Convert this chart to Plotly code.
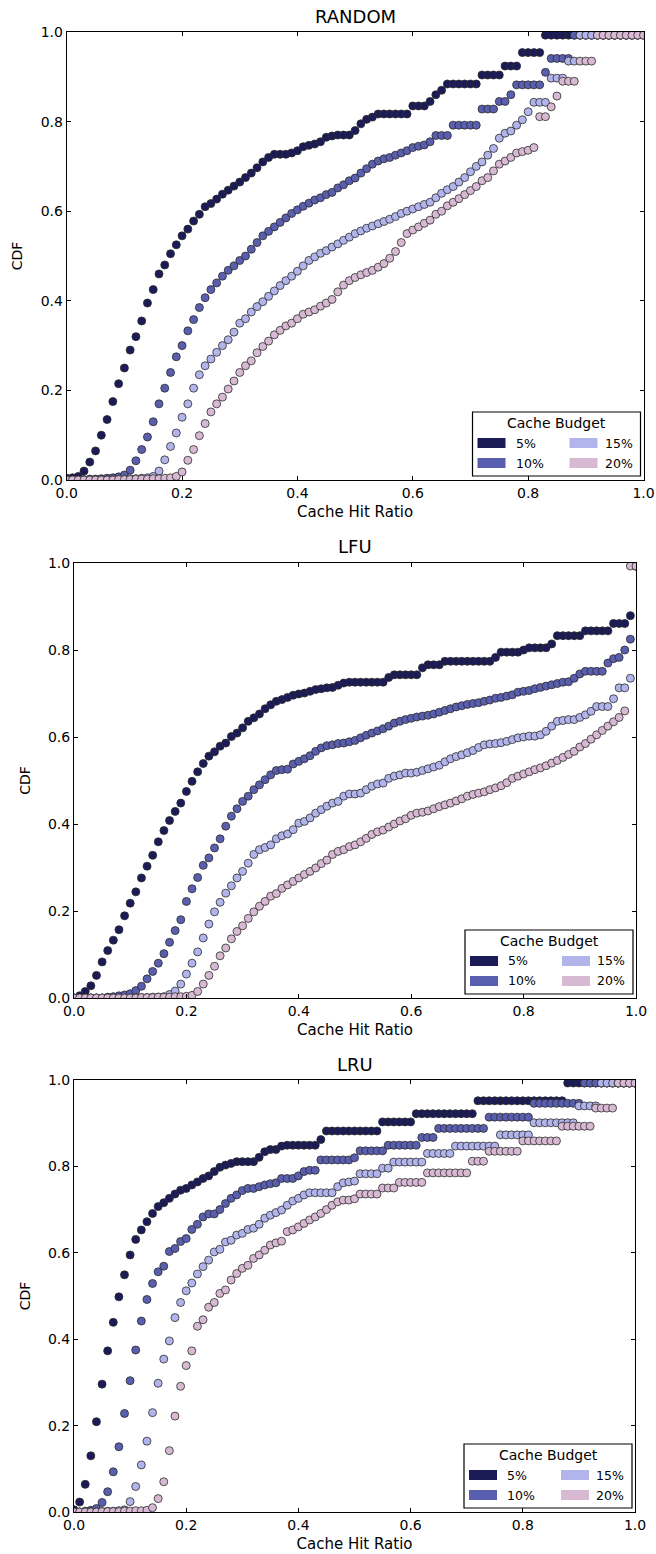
import plotly.graph_objects as go

W, H = 656, 1554

# ---------------- data ----------------
HIT_RATIO = [i / 100 for i in range(101)]
BUDGETS = ["5%", "10%", "15%", "20%"]
PANEL_TITLES = ["RANDOM", "LFU", "LRU"]
TICKS = [0.0, 0.2, 0.4, 0.6, 0.8, 1.0]
TICK_TEXT = ["0.0", "0.2", "0.4", "0.6", "0.8", "1.0"]

RANDOM_5 = [
    0.004, 0.005, 0.008, 0.020, 0.040, 0.065, 0.100, 0.135, 0.175, 0.215,
    0.250, 0.290, 0.320, 0.355, 0.395, 0.425, 0.460, 0.480, 0.505, 0.525,
    0.545, 0.560, 0.578, 0.593, 0.610, 0.617, 0.627, 0.638, 0.647, 0.656,
    0.665, 0.675, 0.685, 0.697, 0.710, 0.720, 0.727, 0.727, 0.727, 0.730,
    0.735, 0.744, 0.747, 0.750, 0.755, 0.765, 0.768, 0.770, 0.770, 0.770,
    0.780, 0.795, 0.805, 0.810, 0.817, 0.817, 0.817, 0.817, 0.817, 0.817,
    0.835, 0.835, 0.835, 0.845, 0.860, 0.870, 0.884, 0.884, 0.884, 0.884,
    0.884, 0.884, 0.904, 0.904, 0.904, 0.904, 0.924, 0.924, 0.924, 0.954,
    0.954, 0.954, 0.954, 0.993, 0.993, 0.993, 0.993, 0.993, 0.993, 0.993,
    0.993, 0.993, 0.993, 0.993, 0.993, 0.993, 0.993, 0.993, 0.993, 0.993,
    0.993]
RANDOM_10 = [
    0.000, 0.000, 0.000, 0.001, 0.002, 0.002, 0.003, 0.004, 0.005, 0.007,
    0.011, 0.022, 0.043, 0.068, 0.096, 0.130, 0.170, 0.205, 0.240, 0.275,
    0.300, 0.333, 0.358, 0.385, 0.407, 0.425, 0.440, 0.455, 0.468, 0.478,
    0.490, 0.500, 0.515, 0.530, 0.545, 0.555, 0.565, 0.575, 0.585, 0.595,
    0.603, 0.611, 0.618, 0.625, 0.630, 0.637, 0.642, 0.652, 0.659, 0.668,
    0.674, 0.685, 0.695, 0.705, 0.712, 0.717, 0.720, 0.725, 0.730, 0.735,
    0.742, 0.745, 0.748, 0.755, 0.769, 0.769, 0.769, 0.792, 0.792, 0.792,
    0.792, 0.792, 0.828, 0.828, 0.828, 0.845, 0.845, 0.860, 0.882, 0.882,
    0.882, 0.882, 0.882, 0.910, 0.941, 0.941, 0.941, 0.941, 0.993, 0.993,
    0.993, 0.993, 0.993, 0.993, 0.993, 0.993, 0.993, 0.993, 0.993, 0.993,
    0.993]
RANDOM_15 = [
    0.000, 0.000, 0.000, 0.000, 0.000, 0.000, 0.000, 0.001, 0.001, 0.002,
    0.002, 0.003, 0.003, 0.004, 0.005, 0.008, 0.020, 0.045, 0.075, 0.105,
    0.140, 0.170, 0.205, 0.235, 0.255, 0.270, 0.285, 0.300, 0.313, 0.330,
    0.350, 0.360, 0.375, 0.387, 0.398, 0.410, 0.422, 0.434, 0.445, 0.455,
    0.466, 0.478, 0.490, 0.498, 0.506, 0.512, 0.520, 0.527, 0.535, 0.542,
    0.550, 0.556, 0.562, 0.567, 0.572, 0.577, 0.582, 0.588, 0.595, 0.600,
    0.605, 0.610, 0.615, 0.620, 0.630, 0.640, 0.648, 0.655, 0.665, 0.675,
    0.688, 0.700, 0.710, 0.725, 0.740, 0.763, 0.774, 0.779, 0.792, 0.804,
    0.822, 0.843, 0.843, 0.843, 0.897, 0.897, 0.897, 0.935, 0.935, 0.993,
    0.993, 0.993, 0.993, 0.993, 0.993, 0.993, 0.993, 0.993, 0.993, 0.993,
    0.993]
RANDOM_20 = [
    0.000, 0.000, 0.000, 0.000, 0.000, 0.000, 0.000, 0.000, 0.000, 0.001,
    0.001, 0.001, 0.002, 0.002, 0.002, 0.003, 0.003, 0.004, 0.005, 0.008,
    0.018, 0.044, 0.068, 0.099, 0.126, 0.152, 0.170, 0.185, 0.203, 0.221,
    0.240, 0.255, 0.266, 0.284, 0.298, 0.310, 0.324, 0.334, 0.344, 0.350,
    0.360, 0.370, 0.375, 0.380, 0.388, 0.395, 0.403, 0.420, 0.435, 0.445,
    0.452, 0.458, 0.463, 0.468, 0.475, 0.483, 0.495, 0.510, 0.530, 0.550,
    0.558, 0.565, 0.573, 0.580, 0.593, 0.600, 0.612, 0.620, 0.628, 0.637,
    0.646, 0.655, 0.668, 0.675, 0.690, 0.705, 0.712, 0.720, 0.730, 0.733,
    0.736, 0.742, 0.811, 0.811, 0.833, 0.857, 0.890, 0.890, 0.890, 0.935,
    0.935, 0.935, 0.993, 0.993, 0.993, 0.993, 0.993, 0.993, 0.993, 0.993,
    0.993]

LFU_5 = [
    0.000, 0.005, 0.015, 0.028, 0.052, 0.083, 0.109, 0.133, 0.157, 0.189,
    0.218, 0.244, 0.276, 0.303, 0.328, 0.359, 0.385, 0.408, 0.429, 0.448,
    0.475, 0.498, 0.520, 0.539, 0.556, 0.566, 0.579, 0.586, 0.601, 0.609,
    0.621, 0.636, 0.644, 0.653, 0.665, 0.674, 0.682, 0.686, 0.691, 0.696,
    0.699, 0.701, 0.705, 0.709, 0.711, 0.713, 0.714, 0.719, 0.724, 0.726,
    0.726, 0.726, 0.726, 0.726, 0.726, 0.726, 0.737, 0.743, 0.743, 0.743,
    0.743, 0.743, 0.759, 0.766, 0.766, 0.766, 0.774, 0.774, 0.774, 0.774,
    0.774, 0.774, 0.774, 0.774, 0.774, 0.783, 0.795, 0.795, 0.795, 0.795,
    0.800, 0.805, 0.805, 0.805, 0.805, 0.814, 0.833, 0.833, 0.833, 0.833,
    0.833, 0.844, 0.844, 0.844, 0.844, 0.844, 0.861, 0.861, 0.861, 0.879,
    0.993]
LFU_10 = [
    0.000, 0.000, 0.000, 0.000, 0.000, 0.000, 0.002, 0.003, 0.005, 0.007,
    0.010, 0.017, 0.027, 0.044, 0.061, 0.080, 0.102, 0.128, 0.155, 0.180,
    0.222, 0.251, 0.277, 0.305, 0.322, 0.345, 0.366, 0.395, 0.418, 0.435,
    0.452, 0.464, 0.479, 0.490, 0.502, 0.513, 0.523, 0.525, 0.526, 0.538,
    0.544, 0.550, 0.557, 0.567, 0.575, 0.580, 0.582, 0.585, 0.586, 0.589,
    0.592, 0.598, 0.604, 0.609, 0.614, 0.619, 0.625, 0.632, 0.636, 0.640,
    0.643, 0.646, 0.648, 0.650, 0.653, 0.657, 0.661, 0.665, 0.669, 0.672,
    0.675, 0.677, 0.679, 0.682, 0.685, 0.689, 0.691, 0.694, 0.697, 0.703,
    0.705, 0.707, 0.711, 0.714, 0.717, 0.720, 0.723, 0.726, 0.727, 0.735,
    0.745, 0.751, 0.751, 0.751, 0.751, 0.770, 0.780, 0.783, 0.800, 0.825,
    0.993]
LFU_15 = [
    0.000, 0.000, 0.000, 0.000, 0.000, 0.000, 0.000, 0.000, 0.000, 0.000,
    0.000, 0.001, 0.001, 0.001, 0.002, 0.002, 0.003, 0.008, 0.016, 0.032,
    0.055, 0.080, 0.106, 0.138, 0.170, 0.198, 0.220, 0.241, 0.258, 0.276,
    0.291, 0.310, 0.330, 0.341, 0.346, 0.352, 0.366, 0.373, 0.377, 0.387,
    0.402, 0.406, 0.414, 0.425, 0.433, 0.441, 0.448, 0.452, 0.464, 0.469,
    0.469, 0.471, 0.479, 0.487, 0.492, 0.494, 0.505, 0.510, 0.513, 0.517,
    0.517, 0.519, 0.523, 0.527, 0.531, 0.535, 0.543, 0.550, 0.555, 0.559,
    0.564, 0.569, 0.576, 0.582, 0.584, 0.585, 0.587, 0.590, 0.594, 0.598,
    0.600, 0.602, 0.602, 0.605, 0.613, 0.625, 0.636, 0.638, 0.640, 0.640,
    0.645, 0.651, 0.659, 0.670, 0.670, 0.670, 0.688, 0.713, 0.713, 0.735,
    0.993]
LFU_20 = [
    0.000, 0.000, 0.000, 0.000, 0.000, 0.000, 0.000, 0.000, 0.000, 0.000,
    0.000, 0.000, 0.001, 0.001, 0.001, 0.002, 0.002, 0.002, 0.003, 0.003,
    0.004, 0.006, 0.015, 0.032, 0.052, 0.073, 0.097, 0.115, 0.136, 0.153,
    0.166, 0.183, 0.198, 0.211, 0.222, 0.234, 0.240, 0.252, 0.260, 0.268,
    0.276, 0.284, 0.291, 0.299, 0.309, 0.317, 0.330, 0.337, 0.341, 0.348,
    0.352, 0.359, 0.367, 0.376, 0.382, 0.386, 0.393, 0.400, 0.407, 0.412,
    0.420, 0.425, 0.427, 0.430, 0.435, 0.440, 0.444, 0.448, 0.453, 0.458,
    0.464, 0.468, 0.471, 0.474, 0.479, 0.483, 0.488, 0.495, 0.505, 0.510,
    0.515, 0.520, 0.525, 0.529, 0.534, 0.540, 0.546, 0.553, 0.560, 0.567,
    0.577, 0.585, 0.595, 0.605, 0.615, 0.625, 0.635, 0.645, 0.660, 0.993,
    0.993]

LRU_5 = [
    0.005, 0.023, 0.064, 0.130, 0.209, 0.296, 0.373, 0.439, 0.498, 0.549,
    0.595, 0.631, 0.653, 0.672, 0.691, 0.707, 0.716, 0.726, 0.736, 0.745,
    0.749, 0.757, 0.764, 0.772, 0.778, 0.788, 0.798, 0.803, 0.807, 0.811,
    0.811, 0.811, 0.811, 0.821, 0.834, 0.839, 0.839, 0.847, 0.849, 0.849,
    0.849, 0.849, 0.849, 0.849, 0.862, 0.882, 0.882, 0.882, 0.882, 0.882,
    0.882, 0.882, 0.882, 0.882, 0.882, 0.903, 0.903, 0.903, 0.903, 0.903,
    0.903, 0.922, 0.922, 0.922, 0.922, 0.922, 0.922, 0.922, 0.922, 0.922,
    0.922, 0.922, 0.952, 0.952, 0.952, 0.952, 0.952, 0.952, 0.952, 0.952,
    0.952, 0.952, 0.952, 0.952, 0.952, 0.952, 0.952, 0.952, 0.993, 0.993,
    0.993, 0.993, 0.993, 0.993, 0.993, 0.993, 0.993, 0.993, 0.993, 0.993,
    0.993]
LRU_10 = [
    0.000, 0.000, 0.002, 0.004, 0.008, 0.022, 0.047, 0.093, 0.151, 0.228,
    0.304, 0.375, 0.442, 0.492, 0.529, 0.556, 0.569, 0.603, 0.610, 0.626,
    0.633, 0.654, 0.666, 0.683, 0.690, 0.690, 0.700, 0.714, 0.726, 0.734,
    0.744, 0.749, 0.749, 0.753, 0.757, 0.760, 0.762, 0.772, 0.772, 0.772,
    0.778, 0.788, 0.791, 0.791, 0.815, 0.815, 0.815, 0.815, 0.815, 0.815,
    0.820, 0.836, 0.836, 0.836, 0.836, 0.836, 0.849, 0.849, 0.849, 0.849,
    0.849, 0.849, 0.867, 0.867, 0.867, 0.888, 0.888, 0.888, 0.888, 0.888,
    0.888, 0.888, 0.888, 0.888, 0.914, 0.914, 0.914, 0.914, 0.914, 0.914,
    0.914, 0.914, 0.946, 0.946, 0.946, 0.946, 0.946, 0.946, 0.946, 0.946,
    0.946, 0.993, 0.993, 0.993, 0.993, 0.993, 0.993, 0.993, 0.993, 0.993,
    0.993]
LRU_15 = [
    0.000, 0.000, 0.000, 0.001, 0.001, 0.001, 0.002, 0.002, 0.003, 0.005,
    0.024, 0.059, 0.109, 0.164, 0.230, 0.298, 0.354, 0.396, 0.450, 0.485,
    0.512, 0.530, 0.551, 0.568, 0.583, 0.602, 0.608, 0.625, 0.629, 0.641,
    0.645, 0.654, 0.657, 0.666, 0.680, 0.687, 0.693, 0.699, 0.710, 0.720,
    0.726, 0.734, 0.739, 0.739, 0.739, 0.739, 0.739, 0.753, 0.762, 0.764,
    0.766, 0.783, 0.783, 0.783, 0.783, 0.796, 0.796, 0.810, 0.810, 0.810,
    0.810, 0.810, 0.810, 0.830, 0.830, 0.830, 0.830, 0.830, 0.847, 0.847,
    0.847, 0.847, 0.847, 0.847, 0.847, 0.847, 0.873, 0.873, 0.873, 0.873,
    0.873, 0.873, 0.901, 0.901, 0.901, 0.901, 0.901, 0.901, 0.901, 0.901,
    0.940, 0.940, 0.940, 0.940, 0.993, 0.993, 0.993, 0.993, 0.993, 0.993,
    0.993]
LRU_20 = [
    0.000, 0.000, 0.000, 0.000, 0.000, 0.001, 0.001, 0.001, 0.001, 0.002,
    0.002, 0.003, 0.003, 0.004, 0.010, 0.031, 0.070, 0.142, 0.222, 0.291,
    0.339, 0.373, 0.430, 0.445, 0.474, 0.485, 0.506, 0.514, 0.537, 0.552,
    0.564, 0.571, 0.587, 0.595, 0.606, 0.618, 0.623, 0.627, 0.649, 0.653,
    0.660, 0.668, 0.676, 0.683, 0.691, 0.700, 0.710, 0.718, 0.722, 0.722,
    0.725, 0.736, 0.736, 0.736, 0.736, 0.750, 0.750, 0.750, 0.763, 0.763,
    0.763, 0.763, 0.763, 0.785, 0.785, 0.785, 0.785, 0.785, 0.785, 0.785,
    0.785, 0.812, 0.812, 0.812, 0.835, 0.835, 0.835, 0.835, 0.835, 0.835,
    0.859, 0.859, 0.859, 0.859, 0.859, 0.859, 0.859, 0.893, 0.893, 0.893,
    0.893, 0.893, 0.893, 0.935, 0.935, 0.935, 0.935, 0.993, 0.993, 0.993,
    0.993]

PANEL_SERIES = [
    [RANDOM_5, RANDOM_10, RANDOM_15, RANDOM_20],
    [LFU_5, LFU_10, LFU_15, LFU_20],
    [LRU_5, LRU_10, LRU_15, LRU_20],
]

# ---------------- style / layout ----------------
COLORS = ["#1b1b58", "#5a5eaf", "#b2b4ec", "#d8b9d3"]
FONT = "DejaVu Sans"
# axes frames in pixels: left, right, top, bottom
FRAMES = [(66.7, 643.5, 32, 480), (74, 636, 563, 998), (74, 635, 1080, 1512)]


def px_x(p):
    return p / W


def px_y(p):
    return 1 - p / H


fig = go.Figure()
layout = dict(
    width=W, height=H, margin=dict(l=0, r=0, t=0, b=0),
    paper_bgcolor="white", plot_bgcolor="white", showlegend=False,
    font=dict(family=FONT, color="black", size=15),
)
shapes, annotations = [], []

for i, (title, series) in enumerate(zip(PANEL_TITLES, PANEL_SERIES)):
    n = "" if i == 0 else str(i + 1)
    l, r, t, b = FRAMES[i]
    axis_common = dict(
        range=[0, 1], tickvals=TICKS, ticktext=TICK_TEXT, ticks="inside",
        ticklen=4, tickwidth=1, tickcolor="black", showline=True,
        linecolor="black", linewidth=1, mirror="allticks", showgrid=False,
        zeroline=False, automargin=False, ticklabeloverflow="allow",
        tickfont=dict(size=14, family=FONT),
    )
    layout["xaxis" + n] = dict(
        axis_common, domain=[px_x(l), px_x(r)], anchor="y" + n,
        title=dict(text="Cache Hit Ratio", font=dict(size=15), standoff=6),
    )
    layout["yaxis" + n] = dict(
        axis_common, domain=[px_y(b), px_y(t)], anchor="x" + n,
        title=dict(text="CDF", font=dict(size=14), standoff=14),
    )
    for k, ys in enumerate(series):
        fig.add_trace(go.Scatter(
            x=HIT_RATIO, y=ys, mode="markers", name=BUDGETS[k],
            xaxis="x" + n, yaxis="y" + n,
            marker=dict(size=8, color=COLORS[k],
                        line=dict(width=0.8, color="#2b2b2b")),
        ))
    # panel title
    annotations.append(dict(
        text=title, x=px_x((l + r) / 2), y=px_y(t - 16), xref="paper",
        yref="paper", showarrow=False, xanchor="center", yanchor="middle",
        font=dict(size=18, family=FONT),
    ))
    # legend box
    br, bb = r - 3, b - 4
    bl, bt = br - 168, bb - 64
    shapes.append(dict(type="rect", xref="paper", yref="paper",
                       x0=px_x(bl), x1=px_x(br), y0=px_y(bb), y1=px_y(bt),
                       line=dict(color="black", width=1.2), fillcolor="white"))
    annotations.append(dict(
        text="Cache Budget", x=px_x((bl + br) / 2), y=px_y(bb - 53),
        xref="paper", yref="paper", showarrow=False, xanchor="center",
        yanchor="middle", font=dict(size=14, family=FONT),
    ))
    order = [(0, 0, 0), (2, 0, 1), (1, 1, 0), (3, 1, 1)]  # (series, row, col)
    for k, row, col in order:
        cy = bb - 33 + 20 * row
        if col == 0:
            p0, p1 = bl + 5, bl + 33
            annotations.append(dict(
                text=BUDGETS[k], x=px_x(bl + 41), y=px_y(cy), xref="paper",
                yref="paper", showarrow=False, xanchor="left",
                yanchor="middle", font=dict(size=12.5, family=FONT)))
        else:
            p0, p1 = bl + 97, bl + 125
            annotations.append(dict(
                text=BUDGETS[k], x=px_x(br - 6), y=px_y(cy), xref="paper",
                yref="paper", showarrow=False, xanchor="right",
                yanchor="middle", font=dict(size=12.5, family=FONT)))
        shapes.append(dict(type="rect", xref="paper", yref="paper",
                           x0=px_x(p0), x1=px_x(p1), y0=px_y(cy + 5),
                           y1=px_y(cy - 5), line=dict(width=0),
                           fillcolor=COLORS[k]))

layout["shapes"] = shapes
layout["annotations"] = annotations
fig.update_layout(**layout)

fig.write_html("out.html", config={"displayModeBar": False},
               post_script="document.body.style.margin='0';")
